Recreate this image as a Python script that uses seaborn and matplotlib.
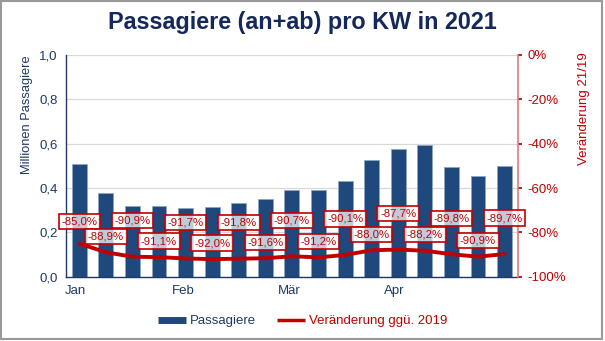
import numpy as np
import matplotlib
matplotlib.use("Agg")
import matplotlib.pyplot as plt
import seaborn as sns
from matplotlib.lines import Line2D
from matplotlib.patches import Rectangle

# ---- data ----
weeks = list(range(1, 18))
passagiere = [0.51, 0.38, 0.32, 0.32, 0.31, 0.315, 0.333, 0.35, 0.39, 0.39,
              0.43, 0.527, 0.577, 0.595, 0.495, 0.455, 0.50]
veraenderung = [-85.0, -88.9, -90.9, -91.1, -91.7, -92.0, -91.8, -91.6, -90.7,
                -91.2, -90.1, -88.0, -87.7, -88.2, -89.8, -90.9, -89.7]
month_labels = ["Jan", "Feb", "Mär", "Apr"]
left_ticks = [0.0, 0.2, 0.4, 0.6, 0.8, 1.0]
right_ticks = [-100, -80, -60, -40, -20, 0]

# ---- style ----
sns.set_theme(style="white")
plt.rcParams["font.family"] = ["Liberation Sans", "DejaVu Sans"]

NAVY = "#1F3864"
BAR = "#1F497D"
RED = "#C00000"

fig = plt.figure(figsize=(6.05, 3.41), dpi=100)
ax = fig.add_axes([0.109, 0.188, 0.747, 0.651])

sns.barplot(x=weeks, y=passagiere, ax=ax, color=BAR, saturation=1,
            width=0.56, edgecolor="#8FA6C4", linewidth=0.6, zorder=2)
ax.set_xlim(-0.5, len(weeks) - 0.5)
ax.set_ylim(0, 1.0)
ax.set_yticks(left_ticks)
ax.set_yticklabels([f"{t:.1f}".replace(".", ",") for t in left_ticks],
                   color=NAVY, fontsize=9.5)
ax.yaxis.grid(True, color="#D9D9D9", linewidth=0.9, zorder=0)
ax.set_axisbelow(True)
ax.set_ylabel("")
ax.set_xlabel("")
ax.set_xticks([-0.13, 3.93, 7.91, 11.86])
ax.set_xticklabels(month_labels, color=NAVY, fontsize=9.5)
ax.tick_params(axis="both", length=0, pad=6)
ax.spines["top"].set_visible(False)
ax.spines["left"].set_color(NAVY)
ax.spines["bottom"].set_color(NAVY)
ax.spines["left"].set_linewidth(1.0)
ax.spines["bottom"].set_linewidth(1.0)
ax.spines["right"].set_visible(False)

ax2 = ax.twinx()
xpos = np.arange(len(weeks))
sns.lineplot(x=xpos, y=veraenderung, ax=ax2, color=RED, linewidth=2.8,
             legend=False, zorder=3)
ax2.set_ylim(-100, 0)
ax2.set_yticks(right_ticks)
ax2.set_yticklabels([f"{t}%" for t in right_ticks], color=RED, fontsize=9.5)
ax2.tick_params(axis="y", length=3, color=RED, pad=4, direction="out")
ax2.set_ylabel("")
for s in ["top", "left", "bottom"]:
    ax2.spines[s].set_visible(False)
ax2.spines["right"].set_color("#E07A7A")
ax2.spines["right"].set_linewidth(1.2)
ax2.grid(False)

for i, v in enumerate(veraenderung):
    off = 16 if i % 2 else 36
    if i == 0:
        off = 22
    ax2.annotate(f"{v:.1f}%".replace(".", ","), xy=(i, v),
                 xytext=(0, off), textcoords="offset pixels",
                 ha="center", va="center", color=RED, fontsize=8.2,
                 bbox=dict(boxstyle="square,pad=0.24", fc=(1, 1, 1, 0.72),
                           ec=RED, lw=1.2), zorder=5)

# axis titles (placed high, as in the reference)
fig.text(0.044, 0.663, "Millionen Passagiere", rotation=90, ha="center",
         va="center", color=NAVY, fontsize=9.3)
fig.text(0.965, 0.68, "Veränderung 21/19", rotation=90, ha="center",
         va="center", color=RED, fontsize=9.5)

fig.text(0.5, 0.935, "Passagiere (an+ab) pro KW in 2021", ha="center",
         va="center", fontsize=16.8, fontweight="bold", color="#14285A")

handles = [Line2D([0], [0], color=BAR, lw=5, solid_capstyle="butt"),
           Line2D([0], [0], color=RED, lw=2.5, solid_capstyle="butt")]
fig.legend(handles, ["Passagiere", "Veränderung ggü. 2019"], loc="center",
           bbox_to_anchor=(0.5, 0.058), ncol=2, frameon=False, fontsize=9.5,
           labelcolor=[NAVY, RED], handlelength=2.1, handletextpad=0.3,
           columnspacing=1.6)

fig.patches.append(Rectangle((0.001, 0.006), 0.994, 0.992, transform=fig.transFigure,
                             fill=False, ec="#999999", lw=1.5))

fig.savefig("out.png", dpi=100)
